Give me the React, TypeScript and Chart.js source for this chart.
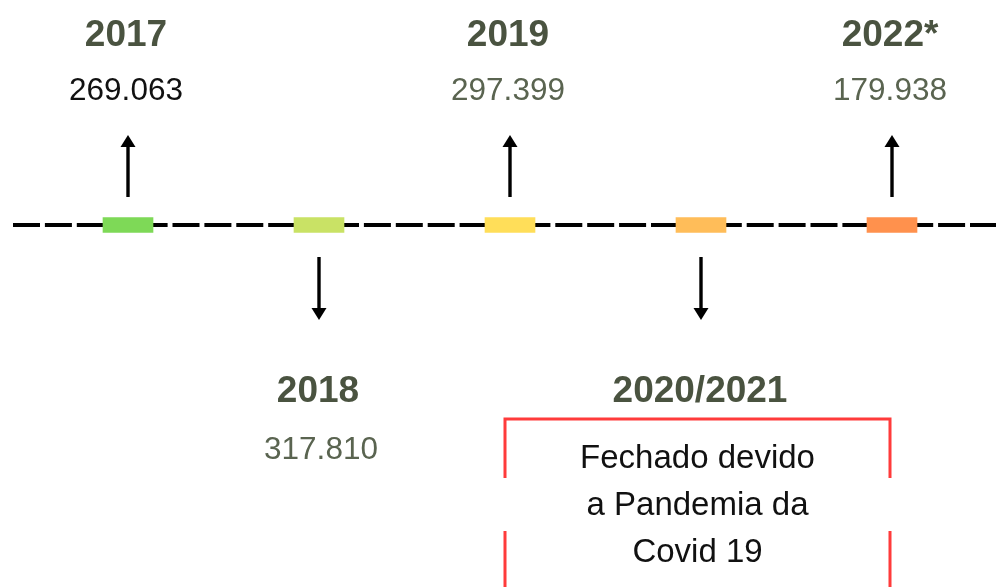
import React, { useEffect, useRef } from "react";
import { Chart, registerables } from "chart.js";

Chart.register(...registerables);

// ---- data ----
const years = ["2017", "2018", "2019", "2020/2021", "2022*"];
const visitors: (number | null)[] = [269063, 317810, 297399, null, 179938];
const markerColors = ["#7ed957", "#c9e265", "#ffde59", "#ffbd59", "#ff914d"];
const valueColors = ["#111111", "#5a6450", "#5a6450", "#5a6450", "#5a6450"];
const noteIndex = 3;
const noteLines = ["Fechado devido", "a Pandemia da", "Covid 19"];

const MARK_HALF = 0.0333;
const FONT = "'Liberation Sans', Arial, sans-serif";
const YEAR_COLOR = "#4a5340";
const NOTE_RED = "#ff3b3b";

function fmt(n: number): string {
  return n.toString().replace(/\B(?=(\d{3})+(?!\d))/g, ".");
}

function drawArrow(ctx: CanvasRenderingContext2D, x: number, yFrom: number, yTip: number) {
  const dir = yTip < yFrom ? -1 : 1;
  const headLen = 12;
  const headW = 15;
  ctx.save();
  ctx.strokeStyle = "#000";
  ctx.fillStyle = "#000";
  ctx.lineWidth = 3.4;
  ctx.setLineDash([]);
  ctx.beginPath();
  ctx.moveTo(x, yFrom);
  ctx.lineTo(x, yTip - dir * (headLen - 1));
  ctx.stroke();
  ctx.beginPath();
  ctx.moveTo(x, yTip);
  ctx.lineTo(x - headW / 2, yTip - dir * headLen);
  ctx.lineTo(x + headW / 2, yTip - dir * headLen);
  ctx.closePath();
  ctx.fill();
  ctx.restore();
}

const timelinePlugin = {
  id: "timeline",
  beforeDatasetsDraw(chart: any) {
    const ctx: CanvasRenderingContext2D = chart.ctx;
    const y0 = chart.scales.y.getPixelForValue(0);
    ctx.save();
    ctx.strokeStyle = "#000";
    ctx.lineWidth = 4;
    ctx.setLineDash([27, 4.9]);
    ctx.beginPath();
    ctx.moveTo(13, y0);
    ctx.lineTo(chart.width, y0);
    ctx.stroke();
    ctx.restore();
  },
  afterDatasetsDraw(chart: any) {
    const ctx: CanvasRenderingContext2D = chart.ctx;
    const xs = chart.scales.x;
    const y0 = chart.scales.y.getPixelForValue(0);
    ctx.save();
    ctx.textAlign = "center";
    ctx.textBaseline = "alphabetic";
    years.forEach((yr, i) => {
      const x = xs.getPixelForValue(i);
      const up = i % 2 === 0;
      if (up) {
        drawArrow(ctx, x, y0 - 28, y0 - 90);
        ctx.font = `bold 37px ${FONT}`;
        ctx.fillStyle = YEAR_COLOR;
        ctx.fillText(yr, x - 2, y0 - 179);
        const v = visitors[i];
        if (v != null) {
          ctx.font = `31.5px ${FONT}`;
          ctx.fillStyle = valueColors[i];
          ctx.fillText(fmt(v), x - 2, y0 - 124.5);
        }
      } else {
        drawArrow(ctx, x, y0 + 32, y0 + 95);
        ctx.font = `bold 37px ${FONT}`;
        ctx.fillStyle = YEAR_COLOR;
        ctx.fillText(yr, x - 1, y0 + 176.7);
        const v = visitors[i];
        if (v != null) {
          ctx.font = `31.5px ${FONT}`;
          ctx.fillStyle = valueColors[i];
          ctx.fillText(fmt(v), x + 2, y0 + 234.3);
        }
      }
      if (i === noteIndex) {
        const cx = x - 3.5;
        const left = cx - 192.5;
        const right = cx + 192.5;
        const top = y0 + 194;
        ctx.strokeStyle = NOTE_RED;
        ctx.lineWidth = 3;
        ctx.setLineDash([]);
        ctx.beginPath();
        ctx.moveTo(left, y0 + 253);
        ctx.lineTo(left, top);
        ctx.lineTo(right, top);
        ctx.lineTo(right, y0 + 253);
        ctx.moveTo(left, y0 + 306);
        ctx.lineTo(left, chart.height + 5);
        ctx.moveTo(right, y0 + 306);
        ctx.lineTo(right, chart.height + 5);
        ctx.stroke();
        ctx.font = `33px ${FONT}`;
        ctx.fillStyle = "#111111";
        noteLines.forEach((ln, k) => {
          ctx.fillText(ln, cx, y0 + 243.3 + k * 46.7);
        });
      }
    });
    ctx.restore();
  },
};

export default function App() {
  const ref = useRef<HTMLCanvasElement | null>(null);
  useEffect(() => {
    document.body.style.margin = "0";
    const canvas = ref.current;
    if (!canvas) return;
    const chart = new Chart(canvas, {
      type: "bar",
      data: {
        labels: years,
        datasets: [
          {
            data: years.map(() => [-MARK_HALF, MARK_HALF]) as any,
            backgroundColor: markerColors,
            borderWidth: 0,
            borderSkipped: false,
            barThickness: 50,
          },
        ],
      },
      options: {
        animation: false,
        responsive: false,
        events: [],
        layout: { padding: { left: 32.5, right: 8.5, top: 0, bottom: 0 } },
        plugins: { legend: { display: false }, tooltip: { enabled: false } },
        scales: {
          x: { type: "category", display: false, offset: true, grid: { display: false } },
          y: { type: "linear", display: false, min: -1.609, max: 1 },
        },
      },
      plugins: [timelinePlugin],
    });
    return () => chart.destroy();
  }, []);
  return (
    <div style={{ width: 996, height: 587, background: "#fff" }}>
      <canvas ref={ref} width={996} height={587} style={{ display: "block" }} />
    </div>
  );
}
